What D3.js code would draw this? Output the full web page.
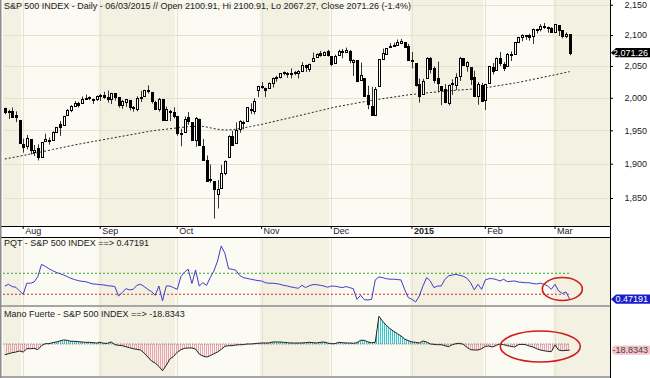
<!DOCTYPE html>
<html lang="en">
<head>
<meta charset="utf-8">
<title>S&amp;P 500 Index - Daily</title>
<script src="https://d3js.org/d3.v7.min.js"></script>
<style>
body { margin: 0; background: #fff; }
svg text { font-family: "Liberation Sans", Arial, sans-serif; fill: #222; }
</style>
</head>
<body>
<script>
// trading days shown (Jul 25 2014 .. Mar 6 2015)
const dates = [
  "2014-07-25","2014-07-28","2014-07-29","2014-07-30","2014-07-31",
  "2014-08-01","2014-08-04","2014-08-05","2014-08-06","2014-08-07","2014-08-08","2014-08-11","2014-08-12","2014-08-13","2014-08-14","2014-08-15","2014-08-18","2014-08-19","2014-08-20","2014-08-21","2014-08-22","2014-08-25","2014-08-26","2014-08-27","2014-08-28","2014-08-29",
  "2014-09-02","2014-09-03","2014-09-04","2014-09-05","2014-09-08","2014-09-09","2014-09-10","2014-09-11","2014-09-12","2014-09-15","2014-09-16","2014-09-17","2014-09-18","2014-09-19","2014-09-22","2014-09-23","2014-09-24","2014-09-25","2014-09-26","2014-09-29","2014-09-30",
  "2014-10-01","2014-10-02","2014-10-03","2014-10-06","2014-10-07","2014-10-08","2014-10-09","2014-10-10","2014-10-13","2014-10-14","2014-10-15","2014-10-16","2014-10-17","2014-10-20","2014-10-21","2014-10-22","2014-10-23","2014-10-24","2014-10-27","2014-10-28","2014-10-29","2014-10-30","2014-10-31",
  "2014-11-03","2014-11-04","2014-11-05","2014-11-06","2014-11-07","2014-11-10","2014-11-11","2014-11-12","2014-11-13","2014-11-14","2014-11-17","2014-11-18","2014-11-19","2014-11-20","2014-11-21","2014-11-24","2014-11-25","2014-11-26","2014-11-28",
  "2014-12-01","2014-12-02","2014-12-03","2014-12-04","2014-12-05","2014-12-08","2014-12-09","2014-12-10","2014-12-11","2014-12-12","2014-12-15","2014-12-16","2014-12-17","2014-12-18","2014-12-19","2014-12-22","2014-12-23","2014-12-24","2014-12-26","2014-12-29","2014-12-30","2014-12-31",
  "2015-01-02","2015-01-05","2015-01-06","2015-01-07","2015-01-08","2015-01-09","2015-01-12","2015-01-13","2015-01-14","2015-01-15","2015-01-16","2015-01-20","2015-01-21","2015-01-22","2015-01-23","2015-01-26","2015-01-27","2015-01-28","2015-01-29","2015-01-30",
  "2015-02-02","2015-02-03","2015-02-04","2015-02-05","2015-02-06","2015-02-09","2015-02-10","2015-02-11","2015-02-12","2015-02-13","2015-02-17","2015-02-18","2015-02-19","2015-02-20","2015-02-23","2015-02-24","2015-02-25","2015-02-26","2015-02-27",
  "2015-03-02","2015-03-03","2015-03-04","2015-03-05","2015-03-06"
];

const open = [
  1984.6,1978.3,1980.0,1973.2,1965.1,
  1929.8,1926.6,1936.3,1917.3,1923.0,1910.4,1933.4,1935.7,1935.6,1947.4,1958.9,1958.4,1972.7,1980.5,1986.8,1992.6,1991.7,1998.6,2000.5,1997.4,1998.5,
  2004.1,2003.6,2001.7,1998.0,2007.2,2000.7,1988.4,1992.9,1996.7,1986.0,1981.9,1999.3,2003.1,2012.7,2009.1,1992.8,1983.3,1997.3,1966.2,1979.0,1978.2,
  1971.4,1945.8,1948.1,1970.0,1962.4,1935.6,1967.7,1925.6,1905.7,1877.1,1874.2,1855.9,1864.9,1885.6,1909.4,1941.3,1931.0,1951.6,1963.0,1964.1,1983.3,1979.5,2011.4,
  2018.2,2015.8,2015.3,2023.3,2032.0,2032.0,2038.2,2037.8,2039.2,2039.7,2038.3,2041.5,2051.2,2045.9,2057.5,2065.1,2070.2,2067.4,2074.8,
  2065.8,2054.2,2067.0,2073.6,2072.8,2074.8,2056.6,2058.9,2027.9,2030.4,2005.0,1986.7,1973.8,2019.0,2061.0,2069.3,2081.5,2083.3,2084.3,2087.6,2088.5,2082.1,
  2058.9,2054.4,2022.2,2005.6,2030.6,2063.5,2046.1,2031.6,2018.4,2013.8,1992.3,2020.8,2020.2,2034.3,2063.0,2050.4,2047.9,2032.3,2002.5,2019.4,
  1996.7,2022.7,2048.9,2043.5,2062.3,2053.5,2049.4,2068.6,2070.0,2088.8,2096.5,2099.2,2099.3,2097.7,2109.8,2109.1,2115.3,2113.9,2110.9,
  2105.2,2115.8,2107.7,2098.5,2100.91
];
const high = [
  1984.6,1981.5,1984.9,1978.9,1965.1,
  1937.4,1942.9,1936.3,1927.9,1928.9,1932.4,1944.9,1939.2,1948.4,1955.2,1964.0,1972.0,1982.6,1988.6,1994.8,1993.5,2001.9,2005.0,2002.1,1998.5,2003.4,
  2006.1,2009.3,2011.2,2007.7,2007.2,2001.0,1996.7,1997.7,1996.7,1987.2,2002.3,2010.7,2012.3,2019.3,2009.1,1995.4,1999.8,1997.3,1986.4,1981.3,1985.2,
  1971.4,1952.3,1971.2,1977.8,1962.4,1970.4,1967.7,1937.0,1912.1,1898.7,1874.2,1876.0,1898.2,1905.0,1942.5,1949.3,1962.0,1965.3,1964.6,1985.1,1991.4,1999.4,2018.2,
  2024.5,2015.8,2023.8,2031.6,2034.3,2038.7,2041.3,2040.3,2046.2,2042.2,2043.1,2056.1,2052.1,2053.8,2071.5,2070.2,2074.2,2073.3,2075.8,
  2065.8,2068.2,2076.3,2077.3,2079.5,2075.8,2060.6,2058.9,2055.5,2030.4,2018.7,2016.9,2016.8,2061.2,2077.9,2078.8,2086.7,2087.6,2092.7,2093.6,2088.5,2085.6,
  2072.4,2054.4,2030.3,2029.6,2064.1,2064.4,2049.3,2056.9,2018.4,2021.4,2020.5,2028.9,2038.3,2064.6,2063.0,2057.6,2047.9,2042.5,2024.6,2023.3,
  2021.7,2050.3,2054.7,2063.6,2072.4,2056.2,2070.9,2073.5,2088.5,2097.0,2101.3,2100.2,2102.1,2110.6,2110.1,2117.9,2119.6,2113.9,2112.7,
  2117.5,2115.8,2107.7,2104.3,2100.91
];
const low = [
  1974.4,1967.3,1969.9,1962.4,1930.0,
  1916.4,1921.2,1913.8,1911.5,1904.8,1909.0,1933.4,1928.3,1935.6,1947.4,1941.5,1958.4,1972.7,1977.7,1986.8,1984.8,1991.7,1998.6,1996.2,1990.5,1994.7,
  1994.9,1998.2,1992.4,1990.1,1995.6,1984.6,1983.0,1985.9,1980.3,1978.5,1979.1,1993.3,2003.1,2006.6,1991.0,1982.4,1978.6,1966.0,1966.2,1964.0,1968.0,
  1941.7,1926.0,1948.1,1958.4,1935.1,1925.3,1927.6,1906.1,1874.1,1871.8,1820.7,1835.0,1864.9,1883.0,1909.4,1926.8,1931.0,1946.3,1951.4,1964.1,1974.8,1974.2,2001.0,
  2013.7,2001.0,2014.0,2015.9,2025.1,2030.2,2035.3,2031.3,2030.4,2035.2,2030.2,2041.5,2040.4,2040.5,2056.8,2065.1,2064.8,2066.6,2065.1,
  2049.6,2054.2,2066.6,2062.3,2070.8,2054.3,2034.2,2024.3,2027.9,2002.3,1982.3,1972.6,1973.8,2019.0,2061.0,2069.3,2079.8,2081.9,2084.3,2085.8,2079.5,2057.9,
  2046.0,2017.3,1992.4,2005.6,2030.6,2038.3,2022.6,2008.3,1988.4,1991.5,1988.1,2004.5,2012.0,2026.4,2050.5,2041.0,2019.9,2001.5,1989.2,1993.4,
  1980.9,2022.7,2036.7,2043.5,2050.0,2041.9,2048.6,2058.0,2070.0,2086.7,2089.8,2092.2,2090.8,2085.4,2102.5,2105.9,2109.9,2103.8,2103.8,
  2104.5,2098.3,2094.5,2095.2,2067.27
];
const close = [
  1978.3,1978.9,1969.9,1970.1,1930.7,
  1925.2,1939.0,1920.2,1920.2,1909.6,1931.6,1936.9,1933.8,1946.7,1955.2,1955.1,1971.7,1981.6,1986.5,1992.4,1988.4,1997.9,2000.0,2000.1,1996.7,2003.4,
  2002.3,2000.7,1997.7,2007.7,2001.5,1988.4,1995.7,1997.5,1985.5,1984.1,1999.0,2001.6,2011.4,2010.4,1994.3,1982.8,1998.3,1966.0,1982.9,1977.8,1972.3,
  1946.2,1946.2,1967.9,1964.8,1935.1,1968.9,1928.2,1906.1,1874.7,1877.7,1862.5,1862.8,1886.8,1904.0,1941.3,1927.1,1950.8,1964.6,1961.6,1985.1,1982.3,1994.7,2018.1,
  2017.8,2012.1,2023.6,2031.2,2031.9,2038.3,2039.7,2038.3,2039.3,2039.8,2041.3,2051.8,2048.7,2052.8,2063.5,2069.4,2067.0,2072.8,2067.6,
  2053.4,2066.6,2074.3,2071.9,2075.4,2060.3,2059.8,2026.1,2035.3,2002.3,1989.6,1972.7,2012.9,2061.2,2070.7,2078.5,2082.2,2081.9,2088.8,2090.6,2080.4,2058.9,
  2058.2,2020.6,2002.6,2025.9,2062.1,2044.8,2028.3,2023.0,2011.3,1992.7,2019.4,2022.6,2032.1,2063.2,2051.8,2057.1,2029.6,2002.2,2021.3,1995.0,
  2020.9,2050.0,2041.5,2062.5,2055.5,2046.7,2068.6,2068.5,2088.5,2097.0,2100.3,2099.7,2097.5,2110.3,2109.7,2115.5,2113.9,2110.7,2104.5,
  2117.4,2107.8,2098.5,2101.0,2071.26
];

// dotted moving average on the price panel
const movingAvg = [
  1907.0,1908.0,1909.0,1910.0,1911.1,1912.2,1913.3,1914.3,1915.4,1916.5,1917.5,1918.7,1919.8,1921.0,1922.1,1923.3,1924.4,1925.6,1926.7,1927.9,
  1929.0,1930.0,1931.0,1932.0,1933.0,1934.0,1935.0,1936.0,1937.0,1938.0,1939.0,1940.0,1941.0,1942.0,1943.0,1944.0,1945.0,1946.0,1947.0,1948.0,
  1949.0,1949.7,1950.4,1951.0,1951.7,1952.3,1953.0,1953.6,1954.3,1954.9,1955.5,1955.8,1956.1,1956.3,1956.0,1955.0,1953.8,1952.6,1951.6,1950.9,
  1950.5,1950.6,1951.0,1951.6,1952.5,1953.5,1954.6,1955.8,1956.9,1958.0,1959.0,1960.3,1961.6,1962.9,1964.2,1965.5,1966.8,1968.1,1969.4,1970.7,
  1972.0,1973.4,1974.7,1976.1,1977.4,1978.8,1980.1,1981.4,1982.8,1984.1,1985.5,1986.5,1987.6,1988.6,1989.7,1990.7,1991.8,1992.8,1993.9,1994.9,
  1996.0,1996.8,1997.7,1998.5,1999.4,2000.2,2001.1,2001.9,2002.8,2003.6,2004.5,2005.1,2005.7,2006.3,2006.9,2007.5,2008.1,2008.7,2009.3,2009.9,
  2010.5,2010.9,2011.3,2011.7,2012.1,2012.5,2012.9,2013.3,2013.7,2014.1,2014.5,2015.4,2016.4,2017.3,2018.3,2019.2,2020.2,2021.1,2022.1,2023.0,
  2024.0,2025.2,2026.4,2027.6,2028.8,2030.0,2031.2,2032.4,2033.6,2034.8,2036.0,2037.3,2038.5,2039.8,2041.0
];

// PQT indicator
const pqt = [
  0.547,0.557,0.544,0.540,0.519,0.500,0.563,0.563,0.570,0.601,0.671,0.660,0.646,0.635,0.625,0.618,0.610,0.601,0.591,0.584,
  0.578,0.574,0.572,0.565,0.559,0.557,0.555,0.553,0.549,0.547,0.544,0.490,0.509,0.532,0.525,0.528,0.551,0.557,0.544,0.528,
  0.515,0.494,0.547,0.462,0.547,0.547,0.538,0.528,0.601,0.627,0.643,0.561,0.639,0.547,0.566,0.551,0.595,0.633,0.690,0.776,
  0.734,0.646,0.643,0.637,0.608,0.595,0.591,0.586,0.582,0.578,0.576,0.566,0.563,0.563,0.561,0.557,0.551,0.547,0.542,0.538,
  0.534,0.551,0.538,0.549,0.555,0.555,0.551,0.547,0.540,0.547,0.546,0.542,0.538,0.544,0.538,0.532,0.471,0.494,0.469,0.467,
  0.471,0.582,0.599,0.595,0.589,0.586,0.586,0.584,0.582,0.528,0.481,0.471,0.456,0.490,0.547,0.595,0.576,0.538,0.547,0.547,
  0.586,0.605,0.610,0.614,0.608,0.603,0.591,0.566,0.525,0.557,0.528,0.582,0.589,0.589,0.584,0.576,0.586,0.572,0.574,0.576,
  0.570,0.568,0.566,0.566,0.561,0.559,0.563,0.557,0.547,0.528,0.557,0.519,0.505,0.513,0.47191
];
const pqtLevels = [0.62, 0.50];   // green, red dotted levels

// Mano Fuerte indicator
const manoFuerte = [
  -33.1,-30.0,-26.9,-24.8,-21.7,-24.8,-14.5,-14.5,-13.4,-17.6,-5.2,1.0,1.0,4.1,6.2,9.3,12.4,11.4,8.3,8.3,
  7.2,6.2,5.2,5.2,4.1,3.1,5.2,2.1,2.1,6.2,-2.1,-4.1,-5.2,-8.3,-11.4,-14.5,-16.5,-18.6,-27.9,-40.3,
  -52.7,-58.9,-69.2,-82.6,-66.1,-46.5,-38.2,-25.8,-17.6,-13.4,-12.4,-12.4,-15.5,-31.0,-37.2,-40.3,-36.2,-30.0,-24.8,-16.5,
  -7.2,-5.2,-5.2,-3.1,-2.1,-2.1,0.0,0.0,1.0,2.1,3.1,3.1,3.1,6.2,6.2,6.2,5.2,4.1,3.1,3.1,
  3.1,3.1,4.1,5.2,4.1,3.1,5.2,6.2,3.1,1.0,1.0,5.2,4.1,3.1,3.1,2.1,4.1,11.4,11.4,6.2,
  4.1,5.2,85.7,70.2,57.8,47.5,39.3,32.0,24.8,15.5,10.3,6.2,5.2,3.1,9.3,6.2,0.0,-1.0,-2.1,-2.1,
  -5.2,-8.3,-2.1,1.0,2.1,-1.0,-10.3,-17.6,-18.6,-18.6,-14.5,-7.2,-6.2,-9.3,-4.1,0.0,-2.1,-5.2,-7.2,-9.3,
  -2.1,-1.0,-2.1,-6.2,-9.3,-14.5,-18.6,-20.7,-22.7,-23.8,-3.1,-18.6,-20.7,-19.6,-18.8343
];

const priceTicks = [1850, 1900, 1950, 2000, 2050, 2100, 2150];
const title = "S&P 500 INDEX - Daily - 06/03/2015 // Open 2100.91, Hi 2100.91, Lo 2067.27, Close 2071.26 (-1.4%)";
const pqtTitle = "PQT - S&P 500 INDEX ==> 0.47191";
const mfTitle = "Mano Fuerte - S&P 500 INDEX ==> -18.8343";

// layout
const width = 650, height = 378;
const plotLeft = 3, plotRight = 610;
const main = {top: 0, bottom: 226};
const strip = {top: 226, bottom: 237};
const pqtBox = {top: 237, bottom: 305};
const mfBox = {top: 307, bottom: 376};
const step = (plotRight - plotLeft) / 165.5;

const bars = dates.map((d, i) => ({date: d, o: open[i], h: high[i], l: low[i], c: close[i],
  ma: movingAvg[i], pqt: pqt[i], mf: manoFuerte[i]}));

const x = d3.scaleBand().domain(dates).range([plotLeft, plotLeft + dates.length * step]);
const cx = d => x(d) + x.bandwidth() / 2;
const y = d3.scaleLog().domain([1850, 2100]).range([198, 35]);
const yPqt = d3.scaleLinear().domain([0.43, 0.83]).range([306.5, 236.5]);
const yMf = d3.scaleLinear().domain([-100, 100]).range([376.4, 311.6]);

const parse = d3.timeParse("%Y-%m-%d");
const monthStarts = dates.filter((d, i) => i > 0 && parse(d).getMonth() !== parse(dates[i - 1]).getMonth());

const svg = d3.select("body").append("svg").attr("width", width).attr("height", height);
const defs = svg.append("defs");

// month bands
const bandEdges = [plotLeft].concat(monthStarts.map(d => x(d)), [plotRight]);
const bandCols = ["#f3f1e2", "#fbfaf3"];
[main, pqtBox, mfBox].forEach(p => {
  svg.append("g").selectAll("rect").data(d3.range(bandEdges.length - 1)).join("rect")
    .attr("x", i => bandEdges[i]).attr("width", i => bandEdges[i + 1] - bandEdges[i])
    .attr("y", p.top).attr("height", p.bottom - p.top)
    .attr("fill", i => bandCols[i % 2]);
  svg.append("g").selectAll("line").data(monthStarts).join("line")
    .attr("x1", d => Math.round(cx(d)) + 0.5).attr("x2", d => Math.round(cx(d)) + 0.5)
    .attr("y1", p.top).attr("y2", p.bottom)
    .attr("stroke", "#e6e3d1");
});

// price grid
svg.append("g").selectAll("line").data(priceTicks).join("line")
  .attr("x1", plotLeft).attr("x2", plotRight)
  .attr("y1", d => Math.round(y(d)) + 0.5).attr("y2", d => Math.round(y(d)) + 0.5)
  .attr("stroke", "#e4e1cf");

// moving average
svg.append("path").datum(bars)
  .attr("d", d3.line().x(d => cx(d.date)).y(d => y(d.ma)))
  .attr("fill", "none").attr("stroke", "#222").attr("stroke-width", 1)
  .attr("stroke-dasharray", "2,2");

// candles
const px = d => Math.round(cx(d.date)) + 0.5;
const candles = svg.append("g");
candles.selectAll("line").data(bars).join("line")
  .attr("x1", px).attr("x2", px)
  .attr("y1", d => y(d.h)).attr("y2", d => y(d.l))
  .attr("stroke", "#333").attr("stroke-width", 1);
candles.selectAll("rect").data(bars).join("rect")
  .attr("x", d => px(d) - 1).attr("width", 2)
  .attr("y", d => Math.round(y(Math.max(d.o, d.c))) + 0.5)
  .attr("height", d => Math.max(1, Math.round(y(Math.min(d.o, d.c))) - Math.round(y(Math.max(d.o, d.c)))))
  .attr("fill", d => d.c >= d.o ? "#fff" : "#000")
  .attr("stroke", "#000").attr("stroke-width", 1);

// title
svg.append("text").attr("x", 4).attr("y", 9).attr("font-size", 9).text(title);

// x axis strip
svg.append("rect").attr("x", 0).attr("y", strip.top).attr("width", plotRight).attr("height", strip.bottom - strip.top).attr("fill", "#fff");
const xAxis = svg.append("g").attr("transform", `translate(0,${strip.top})`)
  .call(d3.axisBottom(x).tickValues(monthStarts).tickSize(3)
    .tickFormat(d => parse(d).getMonth() === 0 ? d3.timeFormat("%Y")(parse(d)) : d3.timeFormat("%b")(parse(d))));
xAxis.select(".domain").remove();
xAxis.selectAll(".tick line").attr("stroke", "#000");
xAxis.selectAll("text").attr("text-anchor", "start").attr("x", 2).attr("y", 1.5).attr("dy", "0.71em")
  .attr("font-size", 9).attr("fill", "#222")
  .attr("font-weight", d => parse(d).getMonth() === 0 ? "bold" : "normal");
[strip.top, strip.bottom].forEach(v => svg.append("line")
  .attr("x1", 0).attr("x2", plotRight).attr("y1", v + 0.5).attr("y2", v + 0.5).attr("stroke", "#000"));

// PQT panel
svg.append("g").selectAll("line").data(pqtLevels).join("line")
  .attr("x1", plotLeft).attr("x2", cx(dates[dates.length - 1]))
  .attr("y1", d => yPqt(d)).attr("y2", d => yPqt(d))
  .attr("stroke", (d, i) => i === 0 ? "#2ea82e" : "#d42a2a")
  .attr("stroke-width", 1).attr("stroke-dasharray", "2,2");
svg.append("path").datum(bars)
  .attr("d", d3.line().x(d => cx(d.date)).y(d => yPqt(d.pqt)))
  .attr("fill", "none").attr("stroke", "#3d3dcc").attr("stroke-width", 1);
svg.append("text").attr("x", 4).attr("y", 246).attr("font-size", 9).text(pqtTitle);

// separators
svg.append("rect").attr("x", 0).attr("y", pqtBox.bottom).attr("width", plotRight).attr("height", mfBox.top - pqtBox.bottom).attr("fill", "#a6a6a6");
svg.append("rect").attr("x", 0).attr("y", mfBox.bottom).attr("width", plotRight).attr("height", height - mfBox.bottom).attr("fill", "#a6a6a6");

// Mano Fuerte panel
function hatch(id, color) {
  const p = defs.append("pattern").attr("id", id).attr("patternUnits", "userSpaceOnUse")
    .attr("width", 2).attr("height", 4);
  p.append("rect").attr("width", 1).attr("height", 4).attr("fill", color);
}
hatch("hatchPos", "#2cc9d2");
hatch("hatchNeg", "#eba3b0");
defs.append("clipPath").attr("id", "clipPos").append("rect")
  .attr("x", 0).attr("y", mfBox.top).attr("width", width).attr("height", yMf(0) - mfBox.top);
defs.append("clipPath").attr("id", "clipNeg").append("rect")
  .attr("x", 0).attr("y", yMf(0)).attr("width", width).attr("height", mfBox.bottom - yMf(0));
const mfArea = d3.area().x(d => cx(d.date)).y0(yMf(0)).y1(d => yMf(d.mf));
svg.append("path").datum(bars).attr("d", mfArea).attr("fill", "url(#hatchPos)").attr("clip-path", "url(#clipPos)");
svg.append("path").datum(bars).attr("d", mfArea).attr("fill", "url(#hatchNeg)").attr("clip-path", "url(#clipNeg)");
svg.append("line").attr("x1", plotLeft).attr("x2", cx(dates[dates.length - 1]))
  .attr("y1", yMf(0)).attr("y2", yMf(0))
  .attr("stroke", "#8a6070").attr("stroke-width", 0.8).attr("stroke-dasharray", "1.5,1.5");
svg.append("path").datum(bars)
  .attr("d", d3.line().x(d => cx(d.date)).y(d => yMf(d.mf)))
  .attr("fill", "none").attr("stroke", "#222").attr("stroke-width", 1);
svg.append("text").attr("x", 4).attr("y", 317).attr("font-size", 9).text(mfTitle);

// right axis area
svg.append("rect").attr("x", plotRight).attr("y", 0).attr("width", width - plotRight).attr("height", height).attr("fill", "#fff");
const yAxis = svg.append("g").attr("transform", `translate(${plotRight},0)`)
  .call(d3.axisRight(y).tickValues(priceTicks).tickFormat(d3.format(",")).tickSize(3));
yAxis.select(".domain").remove();
yAxis.selectAll(".tick line").attr("stroke", "#000");
yAxis.selectAll("text").attr("text-anchor", "end").attr("x", 37).attr("font-size", 9).attr("fill", "#222");
svg.append("line").attr("x1", plotRight + 0.5).attr("x2", plotRight + 0.5).attr("y1", 0).attr("y2", height).attr("stroke", "#000");
svg.append("rect").attr("x", 0).attr("y", 0).attr("width", 1.5).attr("height", height).attr("fill", "#8c8c8c");

// last-value tags
function tag(yv, label, fill, textFill, pointed) {
  const g = svg.append("g");
  const h = 4.6;
  if (pointed) {
    g.append("path").attr("d", `M${plotRight + 1},${yv} L${plotRight + 6},${yv - h} L${width},${yv - h} L${width},${yv + h} L${plotRight + 6},${yv + h} Z`).attr("fill", fill);
  } else {
    g.append("rect").attr("x", plotRight + 2).attr("y", yv - h).attr("width", width - plotRight).attr("height", 2 * h)
      .attr("rx", 4).attr("fill", fill);
  }
  g.append("text").attr("x", width - 2).attr("y", yv).attr("dy", "0.35em").attr("text-anchor", "end")
    .attr("font-size", 9).style("fill", textFill).text(label);
}
const last = bars[bars.length - 1];
tag(y(last.c), d3.format(",.2f")(last.c), "#000", "#fff", true);
tag(yPqt(last.pqt), String(last.pqt), "#1c1ccc", "#fff", true);
tag(yMf(last.mf), String(last.mf), "#f6c3cb", "#444", false);

// red annotation ellipses
const ann = [
  {cx: cx(dates[152]), cy: yPqt(0.530), rx: 20, ry: 11.5},
  {cx: cx(dates[146]), cy: yMf(-7.5), rx: 40, ry: 15.5}
];
svg.append("g").selectAll("ellipse").data(ann).join("ellipse")
  .attr("cx", d => d.cx).attr("cy", d => d.cy).attr("rx", d => d.rx).attr("ry", d => d.ry)
  .attr("fill", "none").attr("stroke", "#d11a1a").attr("stroke-width", 1.6);
</script>
</body>
</html>
